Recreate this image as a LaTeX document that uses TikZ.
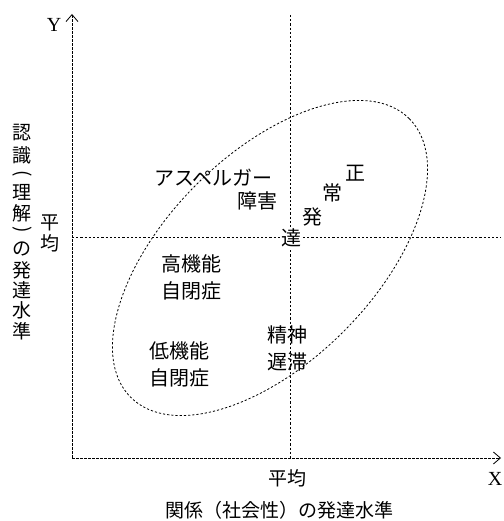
\documentclass[tikz,border=0pt]{standalone}
\usepackage{fontspec}
\newfontfamily\jp{Noto Sans CJK JP}
\setmainfont{Liberation Serif}
\usetikzlibrary{arrows.meta}
\begin{document}
\begin{tikzpicture}[x=1pt,y=-1pt,
  dsh/.style={line width=0.8pt, dash pattern=on 2.2pt off 2pt},
  axis/.style={line width=0.9pt, dash pattern=on 3pt off 1pt, -{Straight Barb[length=7pt,width=12pt,line width=0.8pt]}},
  lbl/.style={font=\jp\fontsize{20}{20}\selectfont, inner sep=0pt},
  albl/.style={font=\jp\fontsize{19}{19}\selectfont, inner sep=0pt},
  ltr/.style={font=\fontsize{20}{20}\selectfont, inner sep=0pt}]
\useasboundingbox (0,0) rectangle (503,521);
% reference points
\coordinate (O) at (72,458);
\coordinate (Ytip) at (72,14);
\coordinate (Xtip) at (501,458);
\coordinate (Ht) at (72,237);
\coordinate (He) at (501,237);
\coordinate (Vt) at (290,15);
\coordinate (Ve) at (290,458);
% average lines
\draw[dsh] (Ht) -- (He);
\draw[dsh] (Vt) -- (Ve);
% ellipse
\draw[dsh] (270,258) ellipse[x radius=197, y radius=104, rotate=45];
% axes
\draw[axis] (O) -- (Ytip);
\draw[axis] (O) -- (Xtip);
\node[ltr] (ylab) at (54,25) {Y};
\node[ltr] (xlab) at (495,479) {X};
% left vertical label
\foreach \c/\y [count=\i] in {認/133,識/155,理/192,解/213,の/249,発/270,達/290,水/310,準/331}
  \node[albl] (v\i) at (22,\y) {\c};
\node[albl, rotate=-90] (pl) at (22,174) {(};
\node[albl, rotate=-90] (pr) at (22,230) {)};
\node[albl] (pa1) at (50,223) {平};
\node[albl] (pa2) at (50,243) {均};
% bottom labels
\node[albl] (pb) at (287,478) {平均};
\node[albl] (bl) at (279,510) {関係（社会性）の発達水準};
% inside labels
\node[lbl] (asp) at (213,178) {アスペルガー};
\node[lbl] (sho) at (257,201) {障害};
\node[lbl] (n1) at (355,173) {正};
\node[lbl] (n2) at (332,193) {常};
\node[lbl] (n3) at (312,217) {発};
\node[lbl, fill=white, inner sep=1pt] (n4) at (291,238) {達};
\node[lbl, align=center] (hk) at (191,277) {高機能\\[7pt]自閉症};
\node[lbl, align=center] (sc) at (287,349) {精神\\[7pt]遅滞};
\node[lbl, align=center] (lk) at (179,364) {低機能\\[7pt]自閉症};
\end{tikzpicture}
\end{document}
